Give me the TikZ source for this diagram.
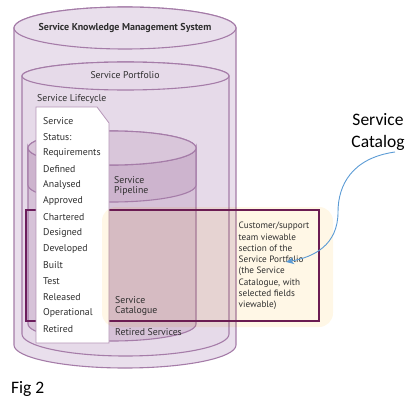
\documentclass[tikz,border=0pt]{standalone}
\usepackage{fontspec}
\newfontfamily\ptsans{PT Sans}
\newfontfamily\calib{Carlito}
\usetikzlibrary{arrows.meta}
\definecolor{cylline}{HTML}{A57CA8}
\definecolor{outerfill}{HTML}{E9DFEC}
\definecolor{portfill}{HTML}{E6DAE9}
\definecolor{innerfill}{HTML}{D6C2D8}
\definecolor{bandfill}{HTML}{CDB4CE}
\definecolor{innertop}{HTML}{D9C6DA}
\definecolor{creamc}{HTML}{FFF7E6}
\definecolor{darkrect}{HTML}{6B1D5C}
\definecolor{boxline}{HTML}{B594B7}
\definecolor{txt}{HTML}{2E2E2E}
\definecolor{arrowblue}{HTML}{5B9BD5}
\tikzset{
  cyl/.style={draw=cylline, line width=1.1pt},
  lab/.style={font=\ptsans\fontsize{9.8}{10.5}\selectfont, text=txt, inner sep=0pt},
  lst/.style={lab, anchor=west},
  callout/.style={font=\calib\fontsize{17.5}{22}\selectfont, text=black, inner sep=0pt}
}
\begin{document}
\begin{tikzpicture}[x=1pt,y=1pt]
\useasboundingbox (0,0) rectangle (419,-401);
% outer cylinder (SKMS)
\filldraw[cyl, fill=outerfill] (14,-28) -- (14,-345) arc[start angle=180,end angle=360,x radius=111,y radius=23] -- (236,-28) arc[start angle=0,end angle=180,x radius=111,y radius=21] -- cycle;
\filldraw[cyl, fill=outerfill] (125,-28) ellipse[x radius=111,y radius=21];
% portfolio cylinder
\filldraw[cyl, fill=portfill] (22,-76) -- (22,-334) arc[start angle=180,end angle=360,x radius=103.5,y radius=22] -- (229,-76) arc[start angle=0,end angle=180,x radius=103.5,y radius=14] -- cycle;
\filldraw[cyl, fill=portfill] (125.5,-76) ellipse[x radius=103.5,y radius=14];
% inner cylinder (pipeline / catalogue / retired)
\filldraw[cyl, fill=innerfill] (28,-148) -- (28,-324) arc[start angle=180,end angle=360,x radius=84,y radius=17] -- (196,-148) arc[start angle=0,end angle=180,x radius=84,y radius=17] -- cycle;
\filldraw[cyl, fill=bandfill] (28,-148) -- (28,-185) arc[start angle=180,end angle=360,x radius=84,y radius=17] -- (196,-148) arc[start angle=360,end angle=180,x radius=84,y radius=17] -- cycle;
\filldraw[cyl, fill=innertop] (112,-148) ellipse[x radius=84,y radius=17];
% service catalogue frame
\draw[darkrect, line width=2pt] (26,-210) rectangle (319,-321);
% service lifecycle card
\filldraw[fill=white, draw=boxline, line width=0.8pt] (36,-107) -- (97,-107) -- (109,-123) -- (109,-343) -- (36,-343) -- cycle;
% cream highlight
\begin{scope}[blend mode=multiply]
\fill[creamc, rounded corners=14pt] (102,-207) rectangle (333,-327);
\end{scope}
% texts
\node[lab, font=\ptsans\bfseries\fontsize{10}{11}\selectfont] (skms) at (125,-28) {Service Knowledge Management System};
\node[lab] (sp) at (125,-75) {Service Portfolio};
\node[lst] (sl) at (37,-99) {Service Lifecycle};
\foreach \t [count=\i] in {Service,Status:,Requirements,Defined,Analysed,Approved,Chartered,Designed,Developed,Built,Test,Released,Operational,Retired}
  \node[lst] (li\i) at (43,{-121-16*(\i-1)}) {\t};
\node[lab, anchor=west, align=left] (pipe) at (114,-186) {Service\\Pipeline};
\node[lab, anchor=west, align=left] (cat) at (115,-306) {Service\\Catalogue};
\node[lst] (ret) at (115,-332) {Retired Services};
\node[lab, anchor=north west, align=left, font=\ptsans\fontsize{9.2}{11.3}\selectfont] (desc) at (238.5,-222) {Customer/support\\team viewable\\section of the\\Service Portfolio\\(the Service\\Catalogue, with\\selected fields\\viewable)};
\node[callout, align=center] (scat) at (378,-132) {Service\\Catalog};
\node[callout, anchor=west] (fig) at (11,-389) {Fig 2};
% arrow
\coordinate (astart) at (395,-152);
\coordinate (atip) at (286,-262);
\draw[arrowblue, line width=0.9pt, -{Stealth[length=8pt,width=7pt]}] (astart) .. controls (352,-158) and (338,-185) .. (338,-212) .. controls (338,-245) and (314,-257) .. (atip);
\end{tikzpicture}
\end{document}
